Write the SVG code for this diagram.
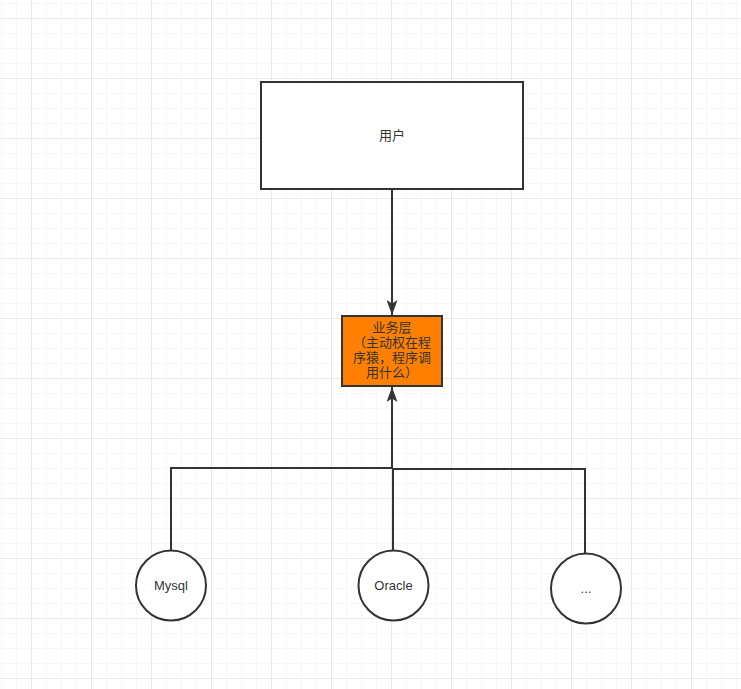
<svg xmlns="http://www.w3.org/2000/svg" width="741" height="689" viewBox="0 0 741 689">
<defs>
<pattern id="minor" x="1" y="3" width="15" height="15" patternUnits="userSpaceOnUse">
<path d="M0 0H15M0 0V15" fill="none" stroke="#efefef" stroke-width="1"/>
</pattern>
<pattern id="major" x="31" y="18" width="60" height="60" patternUnits="userSpaceOnUse">
<path d="M0 0H60M0 0V60" fill="none" stroke="#dedede" stroke-width="1.2"/>
</pattern>
<marker id="arr" viewBox="0 0 15 11" refX="15" refY="5.5" markerWidth="7.5" markerHeight="5.5" orient="auto" markerUnits="strokeWidth">
<path d="M0 0L15 5.5L0 11L3.5 5.5Z" fill="#333"/>
</marker>
<style>
.sh{stroke:#333;stroke-width:2}
.ln{fill:none;stroke:#333;stroke-width:2}
.t{font-family:"Liberation Sans","Noto Sans CJK SC",sans-serif;font-size:13px;fill:#333;text-anchor:middle}
</style>
</defs>
<rect width="741" height="689" fill="#fff"/>
<rect width="741" height="689" fill="url(#minor)"/>
<rect width="741" height="689" fill="url(#major)"/>
<g id="connectors">
<path class="ln" d="M392 189V315" marker-end="url(#arr)"/>
<path class="ln" d="M392 468V387" marker-end="url(#arr)"/>
<path class="ln" d="M171 550V468H392"/>
<path class="ln" d="M393 550V468"/>
<path class="ln" d="M585 553V469H392"/>
</g>
<g id="user">
<rect class="sh" x="261" y="82" width="262" height="107" fill="#fff"/>
<text class="t" x="392" y="140">用户</text>
</g>
<g id="business">
<rect class="sh" x="342" y="316" width="100" height="70" fill="#ff8000"/>
<text class="t" x="392" y="332">业务层</text>
<text class="t" x="392" y="347">（主动权在程</text>
<text class="t" x="392" y="362">序猿，程序调</text>
<text class="t" x="392" y="377">用什么）</text>
</g>
<g id="mysql">
<circle class="sh" cx="171" cy="585.5" r="35" fill="#fff"/>
<text class="t" x="171" y="590">Mysql</text>
</g>
<g id="oracle">
<circle class="sh" cx="393.5" cy="585.5" r="35" fill="#fff"/>
<text class="t" x="393.5" y="590">Oracle</text>
</g>
<g id="other">
<circle class="sh" cx="586" cy="588.5" r="35" fill="#fff"/>
<text class="t" x="586" y="593">...</text>
</g>
</svg>
